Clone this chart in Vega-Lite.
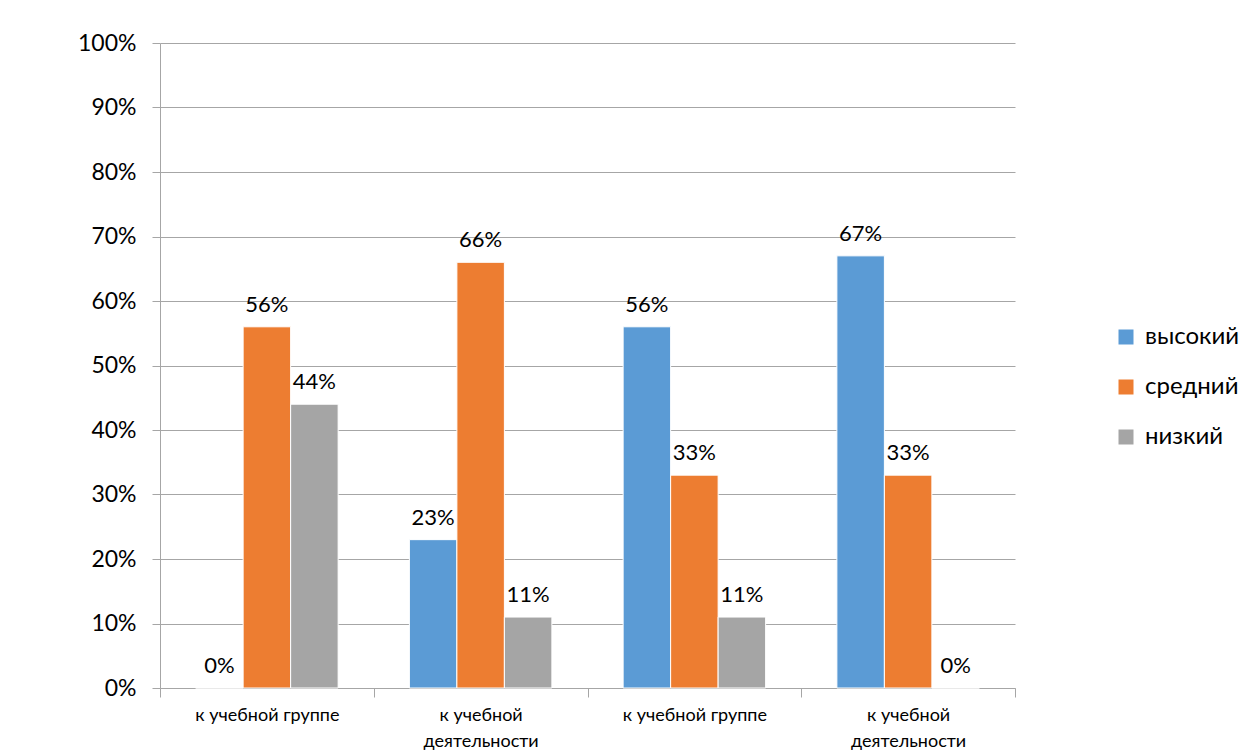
{
  "$schema": "https://vega.github.io/schema/vega-lite/v6.json",
  "width": 855,
  "height": 645,
  "autosize": {"type": "none"},
  "padding": {"left": 160, "top": 43, "right": 237, "bottom": 67},
  "background": "white",
  "config": {
    "view": {"stroke": null},
    "font": "Lato"
  },
  "data": {
    "values": [
      {"group": "к учебной группе", "level": "высокий", "value": 0},
      {"group": "к учебной группе", "level": "средний", "value": 0.56},
      {"group": "к учебной группе", "level": "низкий", "value": 0.44},
      {"group": "к  учебной\nдеятельности", "level": "высокий", "value": 0.23},
      {"group": "к  учебной\nдеятельности", "level": "средний", "value": 0.66},
      {"group": "к  учебной\nдеятельности", "level": "низкий", "value": 0.11},
      {"group": "к учебной группе ", "level": "высокий", "value": 0.56},
      {"group": "к учебной группе ", "level": "средний", "value": 0.33},
      {"group": "к учебной группе ", "level": "низкий", "value": 0.11},
      {"group": "к  учебной\nдеятельности ", "level": "высокий", "value": 0.67},
      {"group": "к  учебной\nдеятельности ", "level": "средний", "value": 0.33},
      {"group": "к  учебной\nдеятельности ", "level": "низкий", "value": 0}
    ]
  },
  "encoding": {
    "x": {
      "field": "group",
      "type": "nominal",
      "sort": null,
      "scale": {"paddingInner": 0, "paddingOuter": 0},
      "axis": {
        "title": null,
        "labelAngle": 0,
        "labelExpr": "isValid(datum.value) ? split(datum.value, '\\n') : ''",
        "labelFontSize": 18,
        "labelColor": "#000000",
        "labelLineHeight": 26,
        "labelPadding": 9,
        "labelBaseline": "top",
        "tickBand": "extent",
        "tickSize": 9,
        "tickColor": "#a6a6a6",
        "domainColor": "#a6a6a6",
        "grid": false
      }
    },
    "xOffset": {
      "field": "level",
      "type": "nominal",
      "sort": ["высокий", "средний", "низкий"],
      "scale": {"paddingInner": 0, "paddingOuter": 0.75}
    },
    "y": {
      "field": "value",
      "type": "quantitative",
      "scale": {"domain": [0, 1]},
      "axis": {
        "title": null,
        "format": ".0%",
        "values": [0, 0.1, 0.2, 0.3, 0.4, 0.5, 0.6, 0.7, 0.8, 0.9, 1],
        "labelOverlap": false,
        "labelFontSize": 23,
        "labelColor": "#000000",
        "labelPadding": 16,
        "tickSize": 8,
        "tickColor": "#a6a6a6",
        "domainColor": "#a6a6a6",
        "gridColor": "#a6a6a6",
        "grid": true
      }
    }
  },
  "layer": [
    {
      "mark": {"type": "bar", "stroke": "white", "strokeWidth": 1},
      "encoding": {
        "color": {
          "field": "level",
          "type": "nominal",
          "sort": ["высокий", "средний", "низкий"],
          "scale": {"domain": ["высокий", "средний", "низкий"], "range": ["#5B9BD5", "#ED7D31", "#A5A5A5"]},
          "legend": {
            "title": null,
            "orient": "none",
            "legendX": 954,
            "legendY": 282,
            "symbolType": "square",
            "symbolSize": 225,
            "symbolStrokeWidth": 0,
            "labelFontSize": 24,
            "labelColor": "#000000",
            "rowPadding": 26,
            "labelOffset": 7
          }
        }
      }
    },
    {
      "mark": {"type": "text", "baseline": "bottom", "dy": -10, "fontSize": 22, "color": "#000000"},
      "encoding": {
        "text": {"field": "value", "type": "quantitative", "format": ".0%"}
      }
    }
  ]
}
